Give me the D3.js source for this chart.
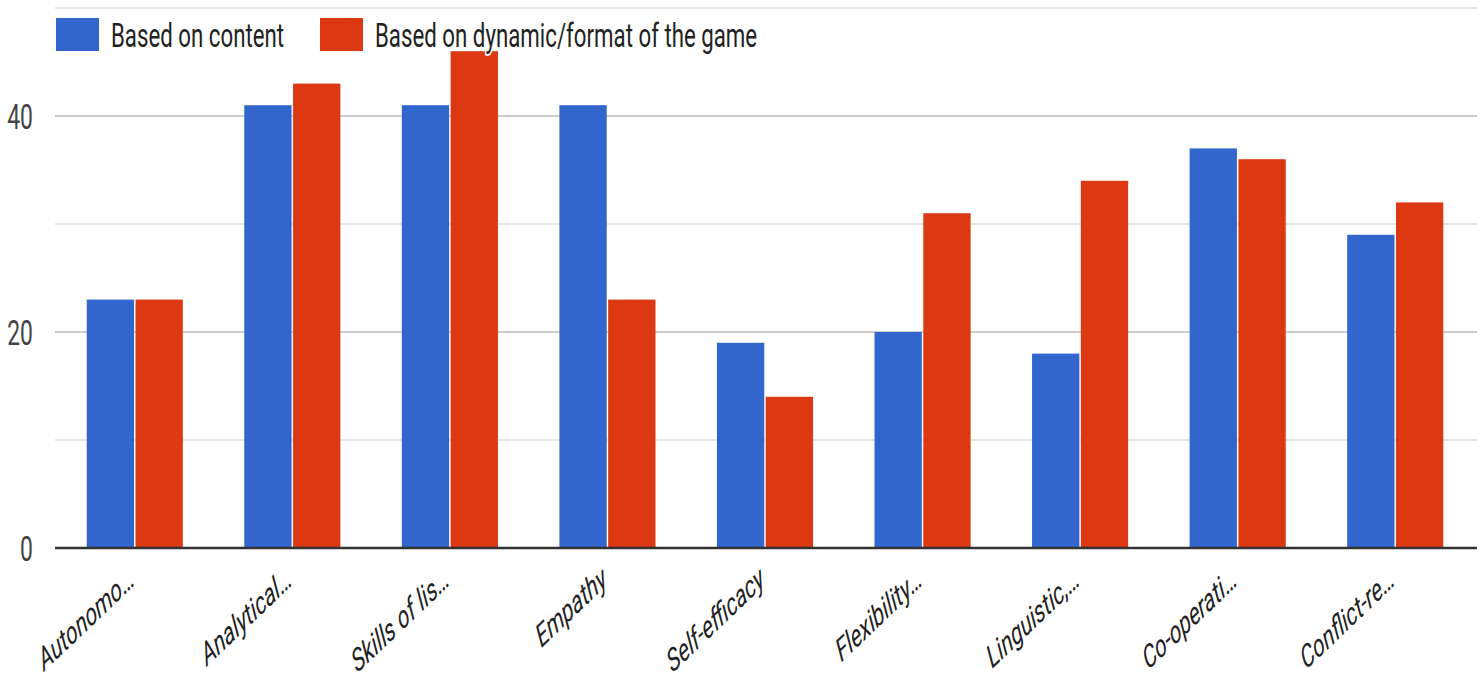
<!DOCTYPE html>
<html>
<head>
<meta charset="utf-8">
<script src="https://cdn.jsdelivr.net/npm/d3@7"></script>
<style>
  html, body { margin: 0; padding: 0; background: #fff; }
  svg { display: block; font-family: Roboto, "Noto Sans", Arial, sans-serif; }
</style>
</head>
<body>
<svg id="chart" width="1481" height="683"></svg>
<script>
// ---- data ----
const categories = ["Autonomo…", "Analytical…", "Skills of lis…", "Empathy", "Self-efficacy",
                    "Flexibility…", "Linguistic,…", "Co-operati…", "Conflict-re…"];
const seriesNames = ["Based on content", "Based on dynamic/format of the game"];
const contentValues = [23, 41, 41, 41, 19, 20, 18, 37, 29];
const dynamicValues = [23, 43, 46, 23, 14, 31, 34, 36, 32];
const majorTicks = [0, 20, 40];
const minorTicks = [10, 30, 50];
const colors = ["#3366cc", "#dc3912"];

// ---- layout ----
const W = 1481, H = 683;
const left = 56, right = 1474, baseY = 548, topY = 8;
const SX = 0.655; // horizontal text compression as in the reference
const svg = d3.select("#chart");

const x0 = d3.scaleBand().domain(categories).range([left, right]).paddingInner(0.39).paddingOuter(0.195);
const x1 = d3.scaleBand().domain(seriesNames).range([0, x0.bandwidth()]).paddingInner(0.03);
const y = d3.scaleLinear().domain([0, 50]).range([baseY, topY]);

// gridlines
svg.append("g").selectAll("line").data(minorTicks).join("line")
  .attr("x1", 55).attr("x2", 1477)
  .attr("y1", d => y(d)).attr("y2", d => y(d))
  .attr("stroke", "#e6e6e6").attr("stroke-width", 2);
svg.append("g").selectAll("line").data(majorTicks.filter(d => d !== 0)).join("line")
  .attr("x1", 55).attr("x2", 1477)
  .attr("y1", d => y(d)).attr("y2", d => y(d))
  .attr("stroke", "#cccccc").attr("stroke-width", 2);

// y labels
svg.append("g").selectAll("text").data(majorTicks).join("text")
  .attr("transform", d => `translate(33,${y(d) + 13}) scale(${SX},1)`)
  .attr("text-anchor", "end")
  .attr("font-size", 35)
  .attr("fill", "#444")
  .text(d => d);

// bars
const rows = categories.map((c, i) => ({ c, vals: [contentValues[i], dynamicValues[i]] }));
const groups = svg.append("g").selectAll("g").data(rows).join("g")
  .attr("transform", d => `translate(${x0(d.c)},0)`);
groups.selectAll("rect").data(d => d.vals.map((v, k) => ({ k, v }))).join("rect")
  .attr("x", d => x1(seriesNames[d.k]))
  .attr("width", x1.bandwidth())
  .attr("y", d => y(d.v))
  .attr("height", d => y(0) - y(d.v))
  .attr("fill", d => colors[d.k]);

// baseline
svg.append("line")
  .attr("x1", 55).attr("x2", 1477)
  .attr("y1", y(0)).attr("y2", y(0))
  .attr("stroke", "#333").attr("stroke-width", 2.5);

// x labels
svg.append("g").selectAll("text").data(categories).join("text")
  .attr("transform", d => `translate(${x0(d) + x0.bandwidth() / 2 + 1},584) scale(${SX},1) rotate(-32)`)
  .attr("text-anchor", "end")
  .attr("font-size", 32)
  .attr("font-style", "italic")
  .attr("fill", "#222")
  .text(d => d);

// legend
const legendX = [56, 320];
const legend = svg.append("g");
seriesNames.forEach((s, k) => {
  legend.append("rect")
    .attr("x", legendX[k]).attr("y", 18)
    .attr("width", 43).attr("height", 33)
    .attr("fill", colors[k]);
  legend.append("text")
    .attr("transform", `translate(${legendX[k] + 55},47) scale(${SX},1)`)
    .attr("font-size", 34)
    .attr("fill", "#222")
    .attr("stroke", "#fff").attr("stroke-width", 4)
    .attr("paint-order", "stroke")
    .attr("stroke-linejoin", "round")
    .text(s);
});
</script>
</body>
</html>
